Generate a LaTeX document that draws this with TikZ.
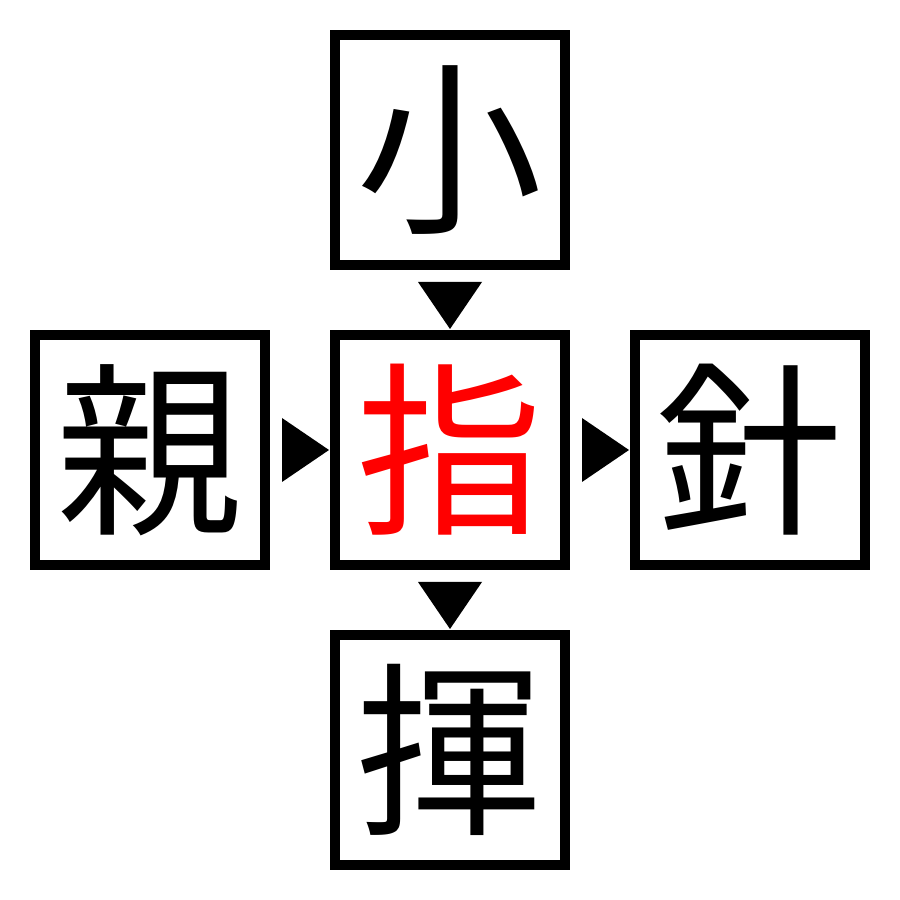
\documentclass[tikz,border=0pt]{standalone}
\usepackage{fontspec}
\newfontfamily\jpfont{Noto Sans CJK JP}
\usetikzlibrary{positioning,shapes.geometric}

\begin{document}
\begin{tikzpicture}[line cap=round,line join=round,x=1cm,y=1cm,
		kanji/.style={draw=black,line width=0.1cm,line cap=rect,line join=miter,minimum size=2.3cm,inner sep=0pt,font=\jpfont\fontsize{53}{53}\selectfont},
		marker/.style={isosceles triangle,isosceles triangle stretches,fill=black,draw=none,inner sep=0pt,outer sep=0pt,minimum width=0.64cm,minimum height=0.47cm,anchor=lower side},
		on grid,node distance=3cm]
			\useasboundingbox (0,0) rectangle (9,9);
			% boxes
			\node[kanji,text=red] (yubi) at (4.5,4.5) {指};
			\node[kanji] (ko) [above=of yubi] {小};
			\node[kanji] (oya) [left=of yubi] {親};
			\node[kanji] (hari) [right=of yubi] {針};
			\node[kanji] (ki) [below=of yubi] {揮};
			% marks between boxes
			\path (oya) -- (yubi) node[pos=0.2,marker] (m1) {};
			\path (yubi) -- (hari) node[pos=0.2,marker] (m2) {};
			\path (ko) -- (yubi) node[pos=0.2,marker,rotate=-90] (m3) {};
			\path (yubi) -- (ki) node[pos=0.2,marker,rotate=-90] (m4) {};
		\end{tikzpicture}
\end{document}
